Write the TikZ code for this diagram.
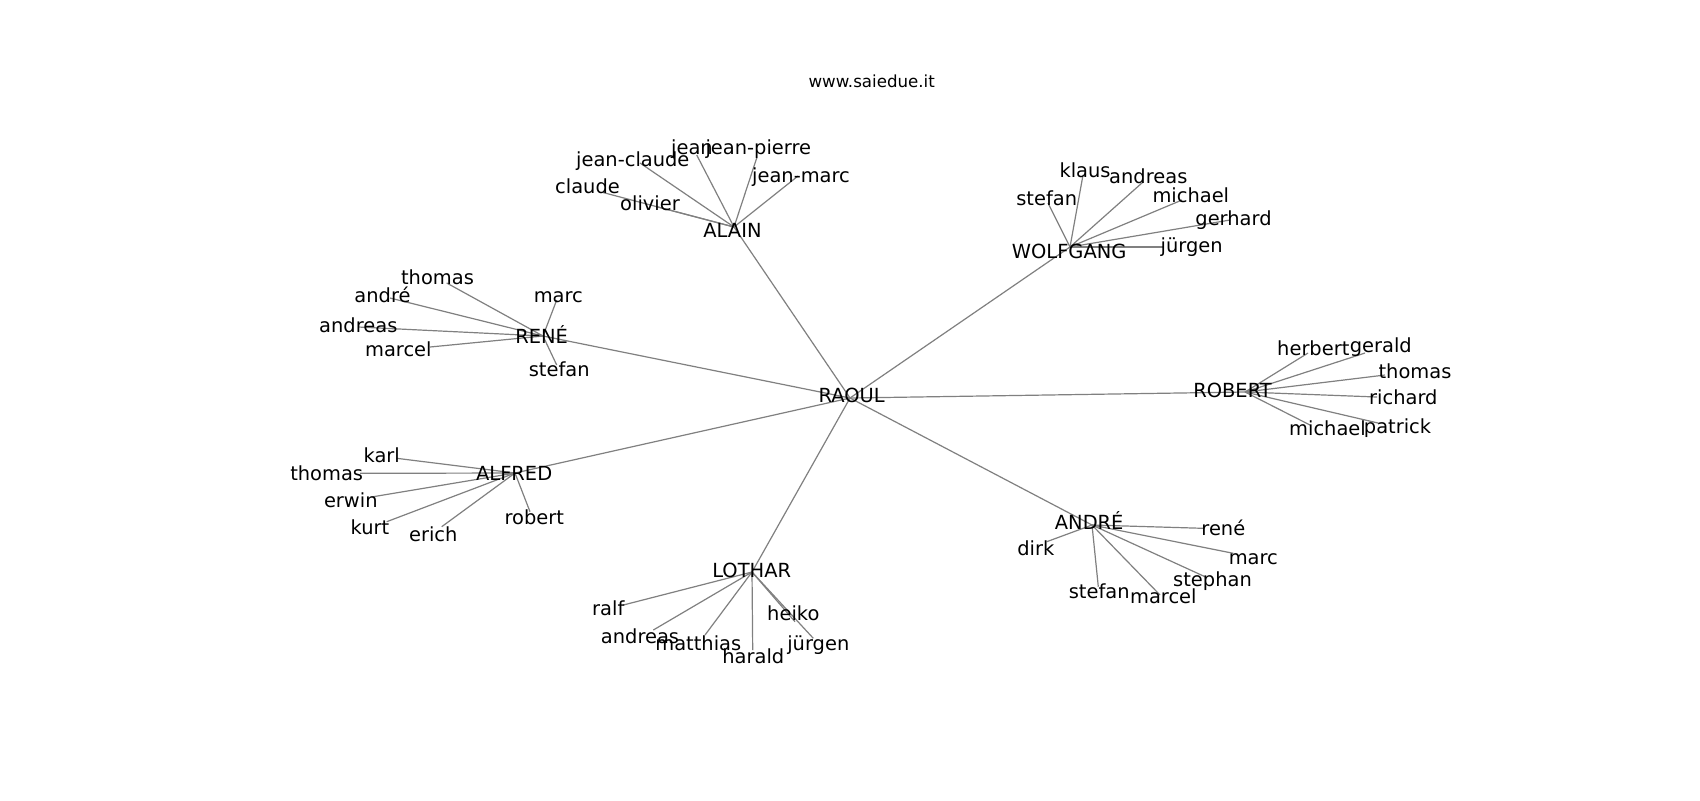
\documentclass[tikz,border=0pt]{standalone}
\usepackage{fontspec}
\setmainfont{DejaVu Sans}
\newcommand\lblfont{\fontsize{9.72}{11}\selectfont}
\newcommand\ttlfont{\fontsize{8.33}{10}\selectfont}
\tikzset{
  edge/.style={draw=black!50, line width=0.6pt},
  lbl/.style={inner sep=0pt, text height=7.1pt, text depth=0pt, font=\lblfont, text=black},
  ttl/.style={inner sep=0pt, text height=6.1pt, text depth=0pt, font=\ttlfont, text=black}
}
\begin{document}
\begin{tikzpicture}[x=0.5pt, y=-0.5pt]
\useasboundingbox (0,0) rectangle (1700,800);
\fill[white] (0,0) rectangle (1700,800);
% graph positions
\coordinate (raoul) at (850,398);
\coordinate (alain) at (734,227);
\coordinate (wolfgang) at (1070,247);
\coordinate (rene) at (543,336);
\coordinate (robert) at (1245,392);
\coordinate (alfred) at (515,473);
\coordinate (lothar) at (752,572);
\coordinate (andre) at (1092,525);
% ALAIN leaves
\coordinate (a1) at (640,163);
\coordinate (a2) at (696.7,155);
\coordinate (a3) at (756.7,158);
\coordinate (a4) at (798,176);
\coordinate (a5) at (603,192.5);
\coordinate (a6) at (656,206.5);
% WOLFGANG leaves
\coordinate (w1) at (1083,175);
\coordinate (w2) at (1143,182);
\coordinate (w3) at (1048,203);
\coordinate (w4) at (1182,200);
\coordinate (w5) at (1230,220);
\coordinate (w6) at (1163,247);
% RENE leaves
\coordinate (r1) at (446.7,283);
\coordinate (r2) at (390,298);
\coordinate (r3) at (556.7,300);
\coordinate (r4) at (358.3,327);
\coordinate (r5) at (430,347);
\coordinate (r6) at (556.7,365);
% ROBERT leaves
\coordinate (b1) at (1308,353);
\coordinate (b2) at (1365,353);
\coordinate (b3) at (1385,375);
\coordinate (b4) at (1377,397);
\coordinate (b5) at (1310,425);
\coordinate (b6) at (1378,423);
% ALFRED leaves
\coordinate (f1) at (396.7,458.3);
\coordinate (f2) at (360,473.3);
\coordinate (f3) at (373.3,496.7);
\coordinate (f4) at (386.7,521.7);
\coordinate (f5) at (441.7,526.7);
\coordinate (f6) at (530,511.7);
% LOTHAR leaves
\coordinate (l1) at (623.3,605);
\coordinate (l2) at (653.3,630);
\coordinate (l3) at (705,635);
\coordinate (l4) at (752.7,650);
\coordinate (l5) at (795,621.7);
\coordinate (l6) at (813.3,638.3);
% ANDRE leaves
\coordinate (d1) at (1203.3,528.3);
\coordinate (d2) at (1046.7,541.7);
\coordinate (d3) at (1233.3,553.3);
\coordinate (d4) at (1205,576.7);
\coordinate (d5) at (1098.3,586.7);
\coordinate (d6) at (1160,595);
% edges
\foreach \h in {alain,wolfgang,rene,robert,alfred,lothar,andre}{\draw[edge] (raoul) -- (\h);}
\foreach \i in {1,...,6}{
  \draw[edge] (alain) -- (a\i);
  \draw[edge] (wolfgang) -- (w\i);
  \draw[edge] (rene) -- (r\i);
  \draw[edge] (robert) -- (b\i);
  \draw[edge] (alfred) -- (f\i);
  \draw[edge] (lothar) -- (l\i);
  \draw[edge] (andre) -- (d\i);
}
% title
\node[ttl] (title) at (871.7,81.7) {www.saiedue.it};
% hub labels
\node[lbl] (raoulT) at (851.7,395) {RAOUL};
\node[lbl] (alainT) at (732.5,230) {ALAIN};
\node[lbl] (wolfgangT) at (1069.2,251.7) {WOLFGANG};
\node[lbl] (reneT) at (541.7,336) {RENÉ};
\node[lbl] (robertT) at (1232.5,390) {ROBERT};
\node[lbl] (alfredT) at (514.2,473.3) {ALFRED};
\node[lbl] (lotharT) at (751.7,570) {LOTHAR};
\node[lbl] (andreT) at (1089.2,522.5) {ANDRÉ};
% leaf labels
\node[lbl] (a1T) at (632.8,159.3) {jean-claude};
\node[lbl] (a2T) at (692,147.3) {jean};
\node[lbl] (a3T) at (758.3,147.3) {jean-pierre};
\node[lbl] (a4T) at (801,175) {jean-marc};
\node[lbl] (a5T) at (587.5,186.7) {claude};
\node[lbl] (a6T) at (650,203.3) {olivier};
\node[lbl] (w1T) at (1085,170.7) {klaus};
\node[lbl] (w2T) at (1148.3,176.7) {andreas};
\node[lbl] (w3T) at (1046.7,198.3) {stefan};
\node[lbl] (w4T) at (1190.8,195) {michael};
\node[lbl] (w5T) at (1233.5,218) {gerhard};
\node[lbl] (w6T) at (1191.7,245) {jürgen};
\node[lbl] (r1T) at (437.5,277.3) {thomas};
\node[lbl] (r2T) at (382.5,295) {andré};
\node[lbl] (r3T) at (558.3,295) {marc};
\node[lbl] (r4T) at (358.3,325) {andreas};
\node[lbl] (r5T) at (398.3,349) {marcel};
\node[lbl] (r6T) at (559.2,369.3) {stefan};
\node[lbl] (b1T) at (1313.3,348.3) {herbert};
\node[lbl] (b2T) at (1380.8,345) {gerald};
\node[lbl] (b3T) at (1415,371.7) {thomas};
\node[lbl] (b4T) at (1403.3,397.3) {richard};
\node[lbl] (b5T) at (1327.5,428.3) {michael};
\node[lbl] (b6T) at (1397.5,426.7) {patrick};
\node[lbl] (f1T) at (381.7,455) {karl};
\node[lbl] (f2T) at (326.7,473.3) {thomas};
\node[lbl] (f3T) at (350.8,500) {erwin};
\node[lbl] (f4T) at (370,527.3) {kurt};
\node[lbl] (f5T) at (433.3,534) {erich};
\node[lbl] (f6T) at (534.2,517.3) {robert};
\node[lbl] (l1T) at (608.3,608.3) {ralf};
\node[lbl] (l2T) at (640,636.7) {andreas};
\node[lbl] (l3T) at (698.3,643.3) {matthias};
\node[lbl] (l4T) at (753.3,656.7) {harald};
\node[lbl] (l5T) at (793.3,613.3) {heiko};
\node[lbl] (l6T) at (818.3,643.3) {jürgen};
\node[lbl] (d1T) at (1223.3,528.3) {rené};
\node[lbl] (d2T) at (1035.8,548.3) {dirk};
\node[lbl] (d3T) at (1253.3,557.3) {marc};
\node[lbl] (d4T) at (1212.5,579.3) {stephan};
\node[lbl] (d5T) at (1099.2,591.7) {stefan};
\node[lbl] (d6T) at (1163.3,596.7) {marcel};
\end{tikzpicture}
\end{document}
